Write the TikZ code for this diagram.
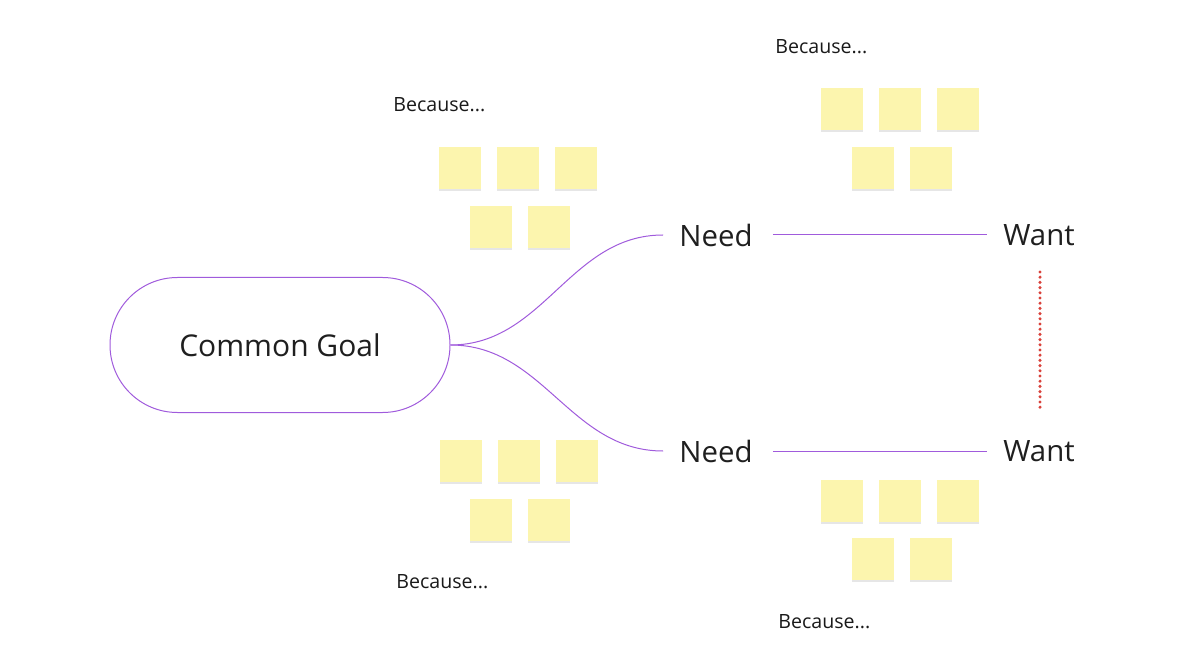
\documentclass[tikz,border=0pt]{standalone}
\usepackage{fontspec}
\setmainfont{Open Sans}
\usetikzlibrary{positioning,shadows}
\definecolor{branch}{HTML}{A05BDC}
\definecolor{sticky}{HTML}{FCF5AE}
\definecolor{dots}{HTML}{D9413A}

\begin{document}
\begin{tikzpicture}[
    x=0.5pt,y=-0.5pt,
    node distance=7.5pt,
    goal/.style={draw=branch,line width=0.5pt,rounded corners=33.7pt,minimum width=170pt,minimum height=67.5pt,font=\fontsize{15}{18}\selectfont,text=black!88},
    word/.style={inner sep=0pt,font=\fontsize{14.7}{18}\selectfont,text=black!88},
    because/.style={inner sep=0pt,anchor=west,font=\fontsize{9.8}{12}\selectfont,text=black!90},
    note/.style={fill=sticky,minimum size=21pt,inner sep=0pt,drop shadow={shadow xshift=0pt,shadow yshift=-1pt,opacity=0.2}},
    link/.style={draw=branch,line width=0.5pt}
  ]
    \useasboundingbox (0,0) rectangle (1200,668);
    \node[goal] (goal) at (280,345) {Common Goal};
    \node[word] (need1) at (716,235) {Need};
    \node[word] (need2) at (716,451) {Need};
    \node[word] (want1) at (1039,235) {Want};
    \node[word] (want2) at (1039,451) {Want};
    \coordinate (d1) at (1040,272);
    \coordinate (d2) at (1040,412);
    % top left
    \node[because] (bc1) at (393,105) {Because...};
    \node[note] (a1) at (460,168) {};
    \node[note,right=of a1] (a2) {};
    \node[note,right=of a2] (a3) {};
    \node[note] (a4) at (491,227) {};
    \node[note,right=of a4] (a5) {};
    % top right
    \node[because] (bc2) at (775,47) {Because...};
    \node[note] (b1) at (842,109) {};
    \node[note,right=of b1] (b2) {};
    \node[note,right=of b2] (b3) {};
    \node[note] (b4) at (873,168) {};
    \node[note,right=of b4] (b5) {};
    % bottom left
    \node[note] (c1) at (461,461) {};
    \node[note,right=of c1] (c2) {};
    \node[note,right=of c2] (c3) {};
    \node[note] (c4) at (491,520) {};
    \node[note,right=of c4] (c5) {};
    \node[because] (bc3) at (396,582) {Because...};
    % bottom right
    \node[note] (e1) at (842,501) {};
    \node[note,right=of e1] (e2) {};
    \node[note,right=of e2] (e3) {};
    \node[note] (e4) at (873,559) {};
    \node[note,right=of e4] (e5) {};
    \node[because] (bc4) at (778,622) {Because...};
    % links
    \draw[link] (goal.east) to[out=0,in=180] ([xshift=-8pt]need1.west);
    \draw[link] (goal.east) to[out=0,in=180] ([xshift=-8pt]need2.west);
    \draw[link] ([xshift=10pt]need1.east) -- ([xshift=-8pt]want1.west);
    \draw[link] ([xshift=10pt]need2.east) -- ([xshift=-8pt]want2.west);
    \draw[dots,line width=1.7pt,line cap=round,dash pattern=on 0pt off 2.6pt] (d1) -- (d2);
\end{tikzpicture}
\end{document}
